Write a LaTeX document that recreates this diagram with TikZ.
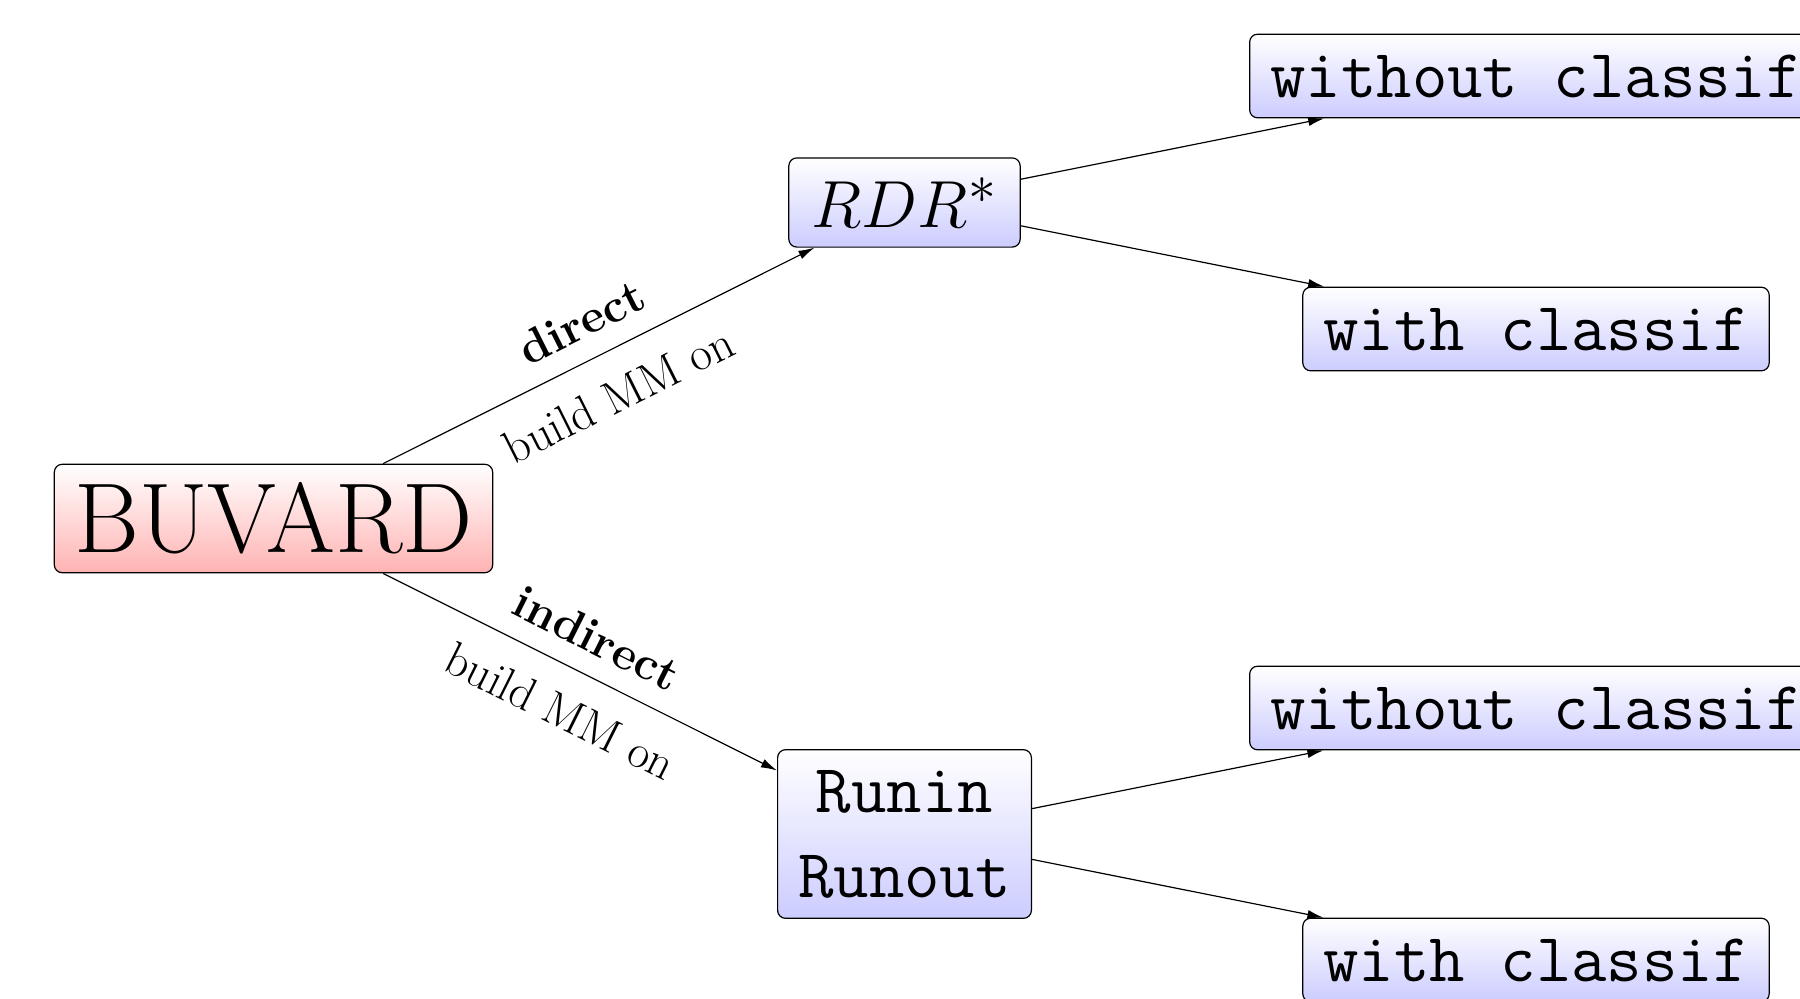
\documentclass[tikz,border=0pt]{standalone}
\usepackage{graphicx}
\usetikzlibrary{arrows.meta}
\tikzset{
  box/.style={draw, rounded corners=4pt, inner xsep=10.3pt, inner ysep=10.2pt, line width=0.6pt},
  redbox/.style={box, top color=white, bottom color=red!30},
  bluebox/.style={box, top color=white, bottom color=blue!20},
  ttbig/.style={font=\fontsize{34.4}{42.5}\selectfont\ttfamily},
  conn/.style={line width=0.6pt, -{Latex[length=8pt,width=4.5pt]}},
  lab/.style={font=\fontsize{23.6}{28}\selectfont, sloped, midway}
}
\begin{document}
\begin{tikzpicture}[x=0.5pt, y=-0.5pt]
  \clip (0,0) rectangle (1800,998);
  \node[redbox, inner xsep=10pt, inner ysep=9.2pt, font=\fontsize{49.6}{60}\selectfont] (buvard) at (273.5,518.5) {BUVARD};
  \node[bluebox, inner xsep=11.5pt, inner ysep=9.8pt] (rdr) at (904.5,202.5) {\scalebox{1.338}{\Huge $RDR^*$}};
  \node[bluebox, ttbig, align=center] (run) at (904.5,834) {Runin\\Runout};
  \node[bluebox, ttbig] (tw) at (1536,76) {without classif};
  \node[bluebox, ttbig] (tc) at (1536,329) {with classif};
  \node[bluebox, ttbig] (bw) at (1536,708) {without classif};
  \node[bluebox, ttbig] (bc) at (1536,960) {with classif};
  \draw[conn] (buvard) -- node[lab, above=7pt] {\bfseries direct} node[lab, below=10pt] {build MM on} (rdr);
  \draw[conn] (buvard) -- node[lab, above=7pt] {\bfseries indirect} node[lab, below=10pt] {build MM on} (run);
  \draw[conn] (rdr) -- (tw);
  \draw[conn] (rdr) -- (tc);
  \draw[conn] (run) -- (bw);
  \draw[conn] (run) -- (bc);
\end{tikzpicture}
\end{document}
